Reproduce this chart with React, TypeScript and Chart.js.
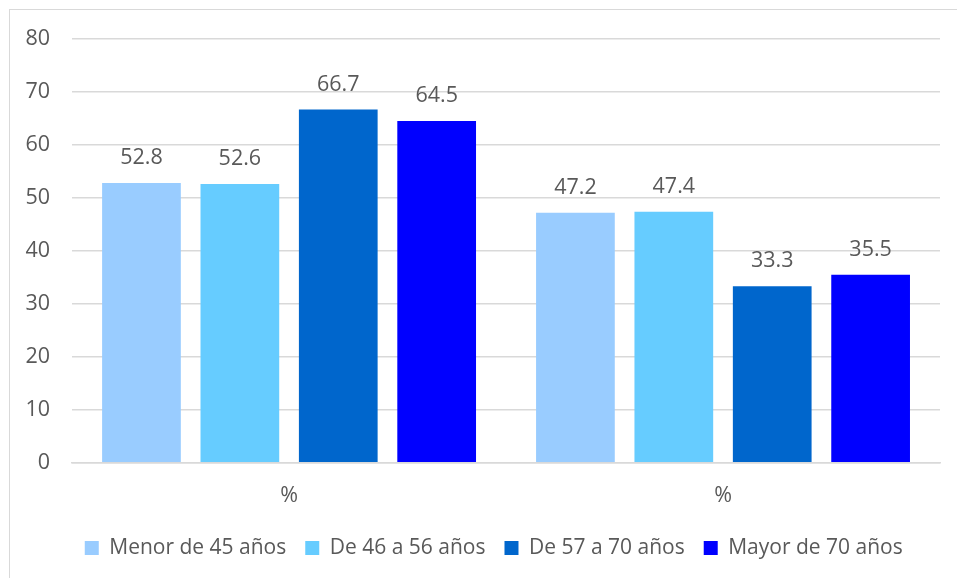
import React, { useEffect, useRef } from "react";
import { Chart, registerables } from "chart.js";

Chart.register(...registerables);

const categories = ["%", "%"];
const seriesNames = ["Menor de 45 años", "De 46 a 56 años", "De 57 a 70 años", "Mayor de 70 años"];
const menor45 = [52.8, 47.2];
const de46a56 = [52.6, 47.4];
const de57a70 = [66.7, 33.3];
const mayor70 = [64.5, 35.5];
const seriesColors = ["#99CCFF", "#66CCFF", "#0066CC", "#0000FF"];
const yTicks = [0, 10, 20, 30, 40, 50, 60, 70, 80];

const TEXT = "#595959";
const GRID = "#D9D9D9";
const FONT = "'Open Sans', sans-serif";
const SIZE = 21.5;

// Writes each bar's value just above it.
const valueLabels = {
  id: "valueLabels",
  afterDatasetsDraw(chart: any) {
    const ctx = chart.ctx;
    ctx.save();
    ctx.font = `${SIZE}px ${FONT}`;
    ctx.fillStyle = TEXT;
    ctx.textAlign = "center";
    ctx.textBaseline = "middle";
    chart.data.datasets.forEach((ds: any, i: number) => {
      const meta = chart.getDatasetMeta(i);
      meta.data.forEach((el: any, j: number) => {
        ctx.fillText(Number(ds.data[j]).toFixed(1), el.x, el.y - 25);
      });
    });
    ctx.restore();
  },
};

// Centres the legend row under the plot area rather than the whole canvas.
const legendShift = {
  id: "legendShift",
  afterLayout(chart: any) {
    const lg = chart.legend;
    if (!lg) return;
    lg.left += 22;
    lg.right += 22;
  },
};

export default function App() {
  const ref = useRef<HTMLCanvasElement>(null);

  useEffect(() => {
    if (!ref.current) return;
    const values = [menor45, de46a56, de57a70, mayor70];
    const chart = new Chart(ref.current, {
      type: "bar",
      data: {
        labels: categories,
        datasets: seriesNames.map((name, i) => ({
          label: name,
          data: values[i],
          backgroundColor: seriesColors[i],
          borderWidth: 0,
          barPercentage: 0.8,
          categoryPercentage: 0.907,
        })),
      },
      options: {
        animation: false,
        responsive: false,
        devicePixelRatio: 1,
        layout: { padding: { left: 3.5, right: 17, top: 39, bottom: 9.5 } },
        font: { family: FONT, size: SIZE },
        scales: {
          x: {
            grid: { display: false, drawTicks: false },
            border: { display: true, color: GRID, width: 1.5 },
            ticks: { color: TEXT, font: { family: FONT, size: SIZE }, padding: 20 },
            afterFit: (axis: any) => {
              axis.height -= 10;
            },
          },
          y: {
            min: 0,
            max: 80,
            afterBuildTicks: (axis: any) => {
              axis.ticks = yTicks.map((v) => ({ value: v }));
            },
            grid: { color: GRID, lineWidth: 1.5, drawTicks: false },
            border: { display: false },
            ticks: { color: TEXT, font: { family: FONT, size: SIZE }, padding: 22 },
          },
        },
        plugins: {
          legend: {
            position: "bottom",
            labels: {
              color: TEXT,
              font: { family: FONT, size: 21 },
              boxWidth: 14,
              boxHeight: 14,
              padding: 19,
            },
          },
          tooltip: { enabled: false },
        },
      },
      plugins: [valueLabels, legendShift],
    });
    return () => chart.destroy();
  }, []);

  return (
    <div style={{ position: "fixed", left: 0, top: 0, width: 957, height: 578, overflow: "hidden", background: "#fff" }}>
      <div
        style={{
          position: "absolute",
          left: 9,
          top: 9,
          width: 1000,
          height: 1000,
          border: `1.5px solid ${GRID}`,
        }}
      />
      <canvas ref={ref} width={957} height={578} style={{ position: "absolute", left: 0, top: 0 }} />
    </div>
  );
}
